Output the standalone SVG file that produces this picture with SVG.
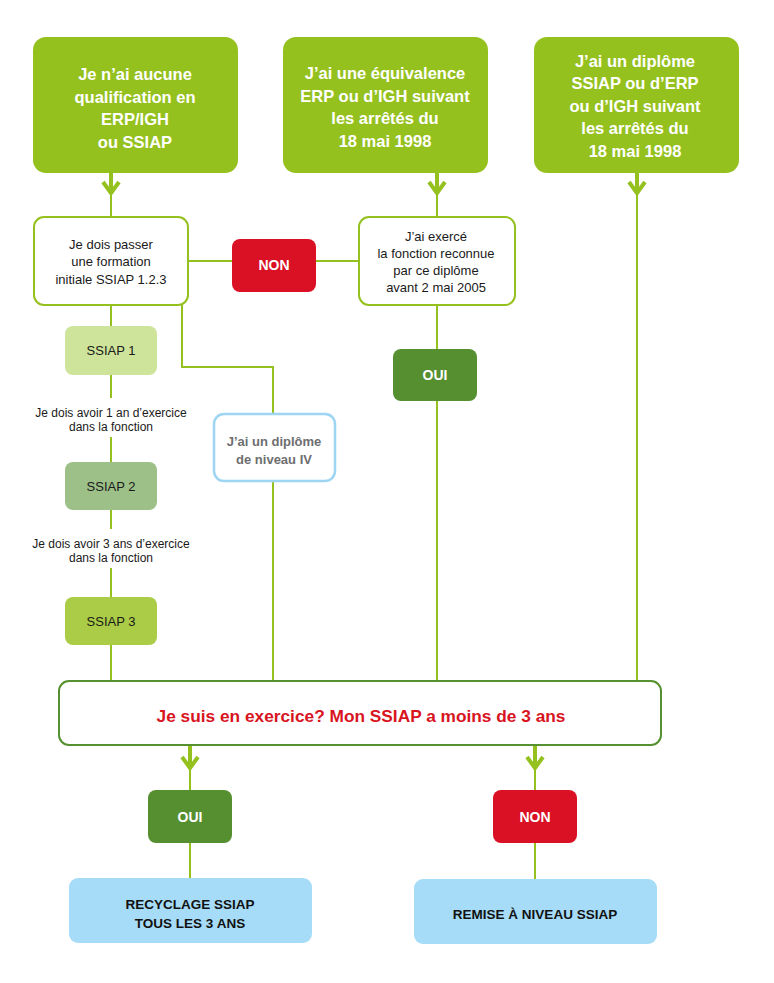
<svg xmlns="http://www.w3.org/2000/svg" width="774" height="983" viewBox="0 0 774 983">
<style>
text{font-family:"Liberation Sans",Arial,sans-serif;text-anchor:middle}
.top{fill:#95c11f}
.topt{fill:#fff;font-weight:bold;font-size:16.5px}
.wbox{fill:#fff;stroke:#95c11f;stroke-width:2}
.t13{font-size:13px;fill:#1a1a1a}
.t12{font-size:12px;fill:#1a1a1a}
.red{fill:#da1024}
.oui{fill:#568f30}
.wt{fill:#fff;font-weight:bold;font-size:14px}
.ln{fill:none;stroke:#95c11f;stroke-width:2}
.thick{fill:none;stroke:#95c11f;stroke-width:4}
.chev{fill:none;stroke:#95c11f;stroke-width:4;stroke-linejoin:miter}
.blue{fill:#a6dcf7}
.bt{font-weight:bold;font-size:13.5px;fill:#111}
</style>
<rect width="774" height="983" fill="#fff"/>
<g id="connectors">
<line class="thick" x1="111" y1="173" x2="111" y2="192"/>
<line class="ln" x1="111" y1="192" x2="111" y2="216"/>
<polyline class="chev" points="103,182 111,193 119,182"/>
<line class="thick" x1="437" y1="173" x2="437" y2="192"/>
<line class="ln" x1="437" y1="192" x2="437" y2="216"/>
<polyline class="chev" points="429,182 437,193 445,182"/>
<line class="thick" x1="637" y1="173" x2="637" y2="192"/>
<line class="ln" x1="637" y1="192" x2="637" y2="681"/>
<polyline class="chev" points="629,182 637,193 645,182"/>
<line class="ln" x1="188" y1="261" x2="359" y2="261"/>
<line class="ln" x1="437" y1="305" x2="437" y2="349"/>
<line class="ln" x1="437" y1="401" x2="437" y2="681"/>
<polyline class="ln" points="182,305 182,367 273,367 273,413"/>
<line class="ln" x1="273" y1="481" x2="273" y2="681"/>
<line class="ln" x1="111" y1="305" x2="111" y2="326"/>
<line class="ln" x1="111" y1="375" x2="111" y2="398"/>
<line class="ln" x1="111" y1="437" x2="111" y2="462"/>
<line class="ln" x1="111" y1="510" x2="111" y2="529"/>
<line class="ln" x1="111" y1="568" x2="111" y2="597"/>
<line class="ln" x1="111" y1="645" x2="111" y2="681"/>
<line class="thick" x1="190" y1="745" x2="190" y2="768"/>
<line class="ln" x1="190" y1="768" x2="190" y2="790"/>
<polyline class="chev" points="182,757 190,768 198,757"/>
<line class="thick" x1="535" y1="745" x2="535" y2="768"/>
<line class="ln" x1="535" y1="768" x2="535" y2="790"/>
<polyline class="chev" points="527,757 535,768 543,757"/>
<line class="ln" x1="190" y1="843" x2="190" y2="878"/>
<line class="ln" x1="535" y1="843" x2="535" y2="879"/>
</g>
<g id="n1">
<rect class="top" x="33" y="37" width="205" height="136" rx="13"/>
<text class="topt" x="135" y="80">Je n’ai aucune</text>
<text class="topt" x="135" y="103">qualification en</text>
<text class="topt" x="135" y="125">ERP/IGH</text>
<text class="topt" x="135" y="148">ou SSIAP</text>
</g>
<g id="n2">
<rect class="top" x="283" y="37" width="205" height="136" rx="13"/>
<text class="topt" x="385" y="79">J’ai une équivalence</text>
<text class="topt" x="385" y="101.5">ERP ou d’IGH suivant</text>
<text class="topt" x="385" y="124">les arrêtés du</text>
<text class="topt" x="385" y="146.5">18 mai 1998</text>
</g>
<g id="n3">
<rect class="top" x="534" y="37" width="205" height="136" rx="13"/>
<text class="topt" x="635" y="67">J’ai un diplôme</text>
<text class="topt" x="635" y="89">SSIAP ou d’ERP</text>
<text class="topt" x="635" y="112">ou d’IGH suivant</text>
<text class="topt" x="635" y="134">les arrêtés du</text>
<text class="topt" x="635" y="157">18 mai 1998</text>
</g>
<g id="n4">
<rect class="wbox" x="34" y="217" width="154" height="88" rx="10"/>
<text class="t13" x="111" y="248.5">Je dois passer</text>
<text class="t13" x="111" y="265.5">une formation</text>
<text class="t13" x="111" y="283.5">initiale SSIAP 1.2.3</text>
</g>
<g id="n5">
<rect class="red" x="232" y="239" width="84" height="53" rx="8"/>
<text class="wt" x="274" y="270">NON</text>
</g>
<g id="n6">
<rect class="wbox" x="359" y="217" width="156" height="88" rx="10"/>
<text class="t13" x="436" y="240.5">J’ai exercé</text>
<text class="t13" x="436" y="257.5">la fonction reconnue</text>
<text class="t13" x="436" y="274.5">par ce diplôme</text>
<text class="t13" x="436" y="291.5">avant 2 mai 2005</text>
</g>
<g id="n7">
<rect class="oui" x="393" y="349" width="84" height="52" rx="8"/>
<text class="wt" x="435" y="380">OUI</text>
</g>
<g id="n8">
<rect x="65" y="326" width="92" height="49" rx="8" fill="#cde49a"/>
<text class="t13" x="111" y="355">SSIAP 1</text>
</g>
<g id="l1">
<text class="t12" x="111" y="417">Je dois avoir 1 an d’exercice</text>
<text class="t12" x="111" y="431">dans la fonction</text>
</g>
<g id="n9">
<rect x="65" y="462" width="92" height="48" rx="8" fill="#9cc087"/>
<text class="t13" x="111" y="490.5">SSIAP 2</text>
</g>
<g id="l2">
<text class="t12" x="111" y="548">Je dois avoir 3 ans d’exercice</text>
<text class="t12" x="111" y="562">dans la fonction</text>
</g>
<g id="n10">
<rect x="65" y="597" width="92" height="48" rx="8" fill="#aacc46"/>
<text class="t13" x="111" y="625.5">SSIAP 3</text>
</g>
<g id="n11">
<rect x="214" y="414" width="121" height="67" rx="10" fill="#fff" stroke="#9dd5f3" stroke-width="2.5"/>
<text x="274" y="445.5" font-size="13" font-weight="bold" fill="#6d6e70">J’ai un diplôme</text>
<text x="274" y="463.5" font-size="13" font-weight="bold" fill="#6d6e70">de niveau IV</text>
</g>
<g id="n12">
<rect x="59" y="681" width="602" height="64" rx="10" fill="#fff" stroke="#559131" stroke-width="2"/>
<text x="361" y="722" font-size="17.3" font-weight="bold" fill="#d8141f">Je suis en exercice? Mon SSIAP a moins de 3 ans</text>
</g>
<g id="n13">
<rect class="oui" x="148" y="790" width="84" height="53" rx="8"/>
<text class="wt" x="190" y="822">OUI</text>
</g>
<g id="n14">
<rect class="red" x="493" y="790" width="84" height="53" rx="8"/>
<text class="wt" x="535" y="822">NON</text>
</g>
<g id="n15">
<rect class="blue" x="69" y="878" width="243" height="65" rx="9"/>
<text class="bt" x="190" y="909">RECYCLAGE SSIAP</text>
<text class="bt" x="190" y="928">TOUS LES 3 ANS</text>
</g>
<g id="n16">
<rect class="blue" x="414" y="879" width="243" height="65" rx="9"/>
<text class="bt" x="535" y="919">REMISE À NIVEAU SSIAP</text>
</g>
</svg>
